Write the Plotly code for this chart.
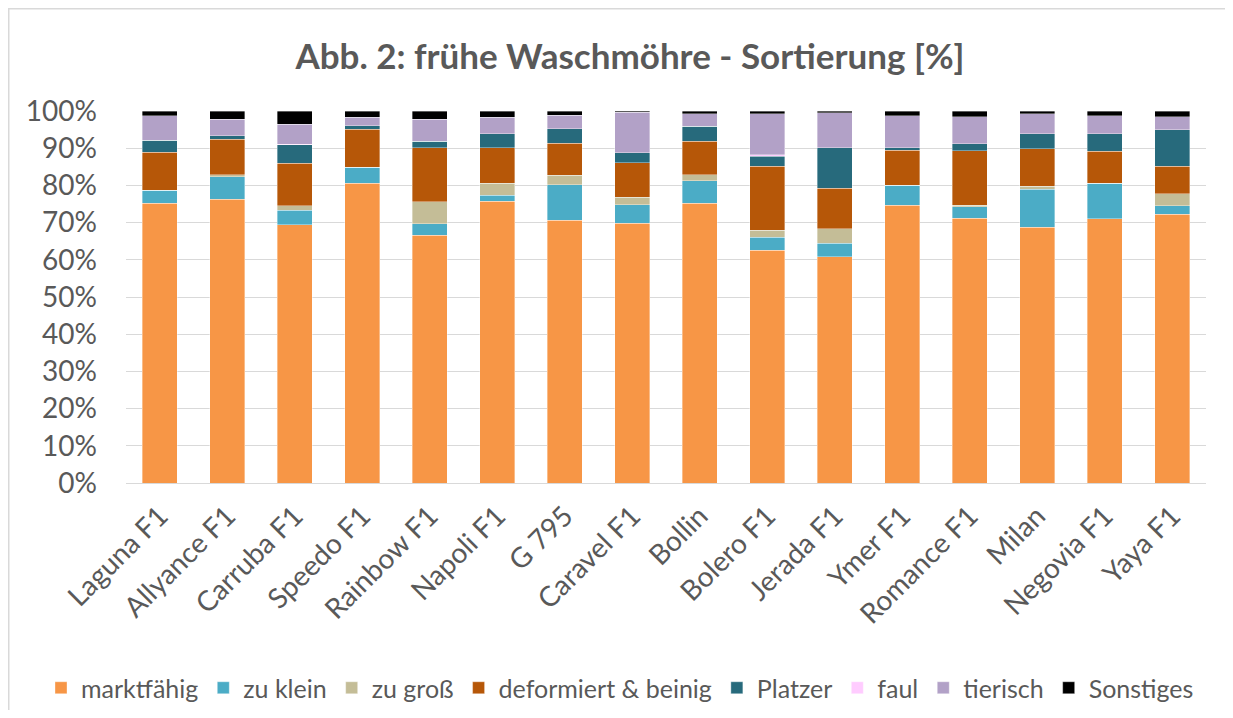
import plotly.graph_objects as go

categories = ["Laguna F1", "Allyance F1", "Carruba F1", "Speedo F1", "Rainbow F1",
              "Napoli F1", "G 795", "Caravel F1", "Bollin", "Bolero F1", "Jerada F1",
              "Ymer F1", "Romance F1", "Milan", "Negovia F1", "Yaya F1"]

marktfaehig = [75.2, 76.3, 69.4, 80.6, 66.6, 75.8, 70.7, 69.8, 75.2, 62.6, 60.8, 74.7, 71.2, 68.8, 71.0, 72.2]
zu_klein    = [3.5, 6.0, 3.9, 4.3, 3.1, 1.6, 9.5, 5.0, 6.0, 3.4, 3.6, 5.4, 3.0, 10.2, 9.6, 2.3]
zu_gross    = [0.0, 0.5, 1.2, 0.0, 5.9, 3.2, 2.5, 2.0, 1.6, 2.0, 3.9, 0.0, 0.5, 0.8, 0.0, 3.3]
deformiert  = [10.2, 9.6, 11.4, 10.2, 14.5, 9.5, 8.6, 9.3, 9.1, 17.2, 10.9, 9.3, 14.6, 10.0, 8.6, 7.4]
platzer     = [3.2, 0.9, 5.0, 0.9, 1.8, 3.8, 3.9, 2.7, 4.0, 2.7, 10.9, 0.7, 1.9, 4.1, 4.7, 9.8]
faul        = [0.0, 0.0, 0.2, 0.0, 0.0, 0.0, 0.0, 0.0, 0.0, 0.3, 0.0, 0.0, 0.0, 0.0, 0.0, 0.0]
tierisch    = [6.6, 4.5, 5.4, 2.3, 5.9, 4.4, 3.7, 10.8, 3.3, 11.0, 9.4, 8.6, 7.3, 5.3, 4.8, 3.5]
sonstiges   = [1.3, 2.2, 3.5, 1.7, 2.2, 1.7, 1.1, 0.4, 0.8, 0.8, 0.5, 1.3, 1.5, 0.8, 1.3, 1.5]

series_names = ["marktfähig", "zu klein", "zu groß", "deformiert & beinig",
                "Platzer", "faul", "tierisch", "Sonstiges"]
series_values = [marktfaehig, zu_klein, zu_gross, deformiert, platzer, faul, tierisch, sonstiges]
series_colors = ["#F79646", "#4BACC6", "#C4BD97", "#B65708", "#276A7C", "#FFCCFF", "#B2A1C7", "#000000"]

y_ticks = [0, 10, 20, 30, 40, 50, 60, 70, 80, 90, 100]
y_tick_labels = [f"{v}%" for v in y_ticks]

FONT = "Lato"
TXT = "#595959"

fig = go.Figure()
for name, vals, col in zip(series_names, series_values, series_colors):
    fig.add_trace(go.Bar(
        x=categories, y=vals, name=name,
        marker=dict(color=col, line=dict(color="rgba(255,255,255,0.6)", width=0.6)),
    ))

# page body has an 8px margin: figure pixel = screen pixel - OFF
OFF = 8
W, H = 1233 - 2 * OFF, 718 - 2 * OFF
PX0, PX1 = 126, 1206   # plot area on screen (x)
PY0, PY1 = 111, 483    # plot area on screen (y)
L = PX0 - OFF
R = W - (PX1 - OFF)
T = PY0 - OFF
B = H - (PY1 - OFF)
pw, ph = W - L - R, H - T - B

def sx(px):
    return (px - OFF - L) / pw

def sy(py):
    return (H - B - (py - OFF)) / ph

fig.update_layout(
    width=W, height=H,
    margin=dict(l=L, r=R, t=T, b=B, pad=0, autoexpand=False),
    barmode="stack",
    bargap=0.48,
    paper_bgcolor="white",
    plot_bgcolor="white",
    font=dict(family=FONT, color=TXT),
    title=dict(
        text="<b>Abb. 2: frühe Waschmöhre - Sortierung [%]</b>",
        x=(630 - OFF) / W, xanchor="center",
        y=1 - (57 - OFF) / H, yanchor="middle",
        font=dict(family=FONT, size=35, color=TXT),
    ),
    xaxis=dict(
        tickangle=-45,
        tickfont=dict(family=FONT, size=28, color=TXT),
        showgrid=False,
        showline=False,
        ticks="",
        automargin=False,
        ticklabelstandoff=10,
    ),
    yaxis=dict(
        range=[0, 100],
        tickmode="array",
        tickvals=y_ticks,
        ticktext=y_tick_labels,
        tickfont=dict(family=FONT, size=28, color=TXT),
        showgrid=True,
        gridcolor="#D9D9D9",
        gridwidth=1.3,
        zeroline=True,
        zerolinecolor="#D9D9D9",
        zerolinewidth=1.3,
        showline=False,
        ticks="",
        automargin=False,
        ticklabelstandoff=28,
    ),
    legend=dict(
        orientation="h",
        x=sx(41), xanchor="left",
        y=sy(688), yanchor="middle",
        font=dict(family=FONT, size=25, color=TXT),
        traceorder="normal",
        itemwidth=30,
        tracegroupgap=0,
    ),
    shapes=[dict(
        type="rect", xref="paper", yref="paper",
        x0=sx(OFF + 0.75), x1=sx(1260),
        y0=sy(760), y1=sy(OFF + 0.75),
        line=dict(color="#D9D9D9", width=1.5),
        fillcolor="rgba(0,0,0,0)", layer="below",
    )],
)

fig.write_html("out.html")
